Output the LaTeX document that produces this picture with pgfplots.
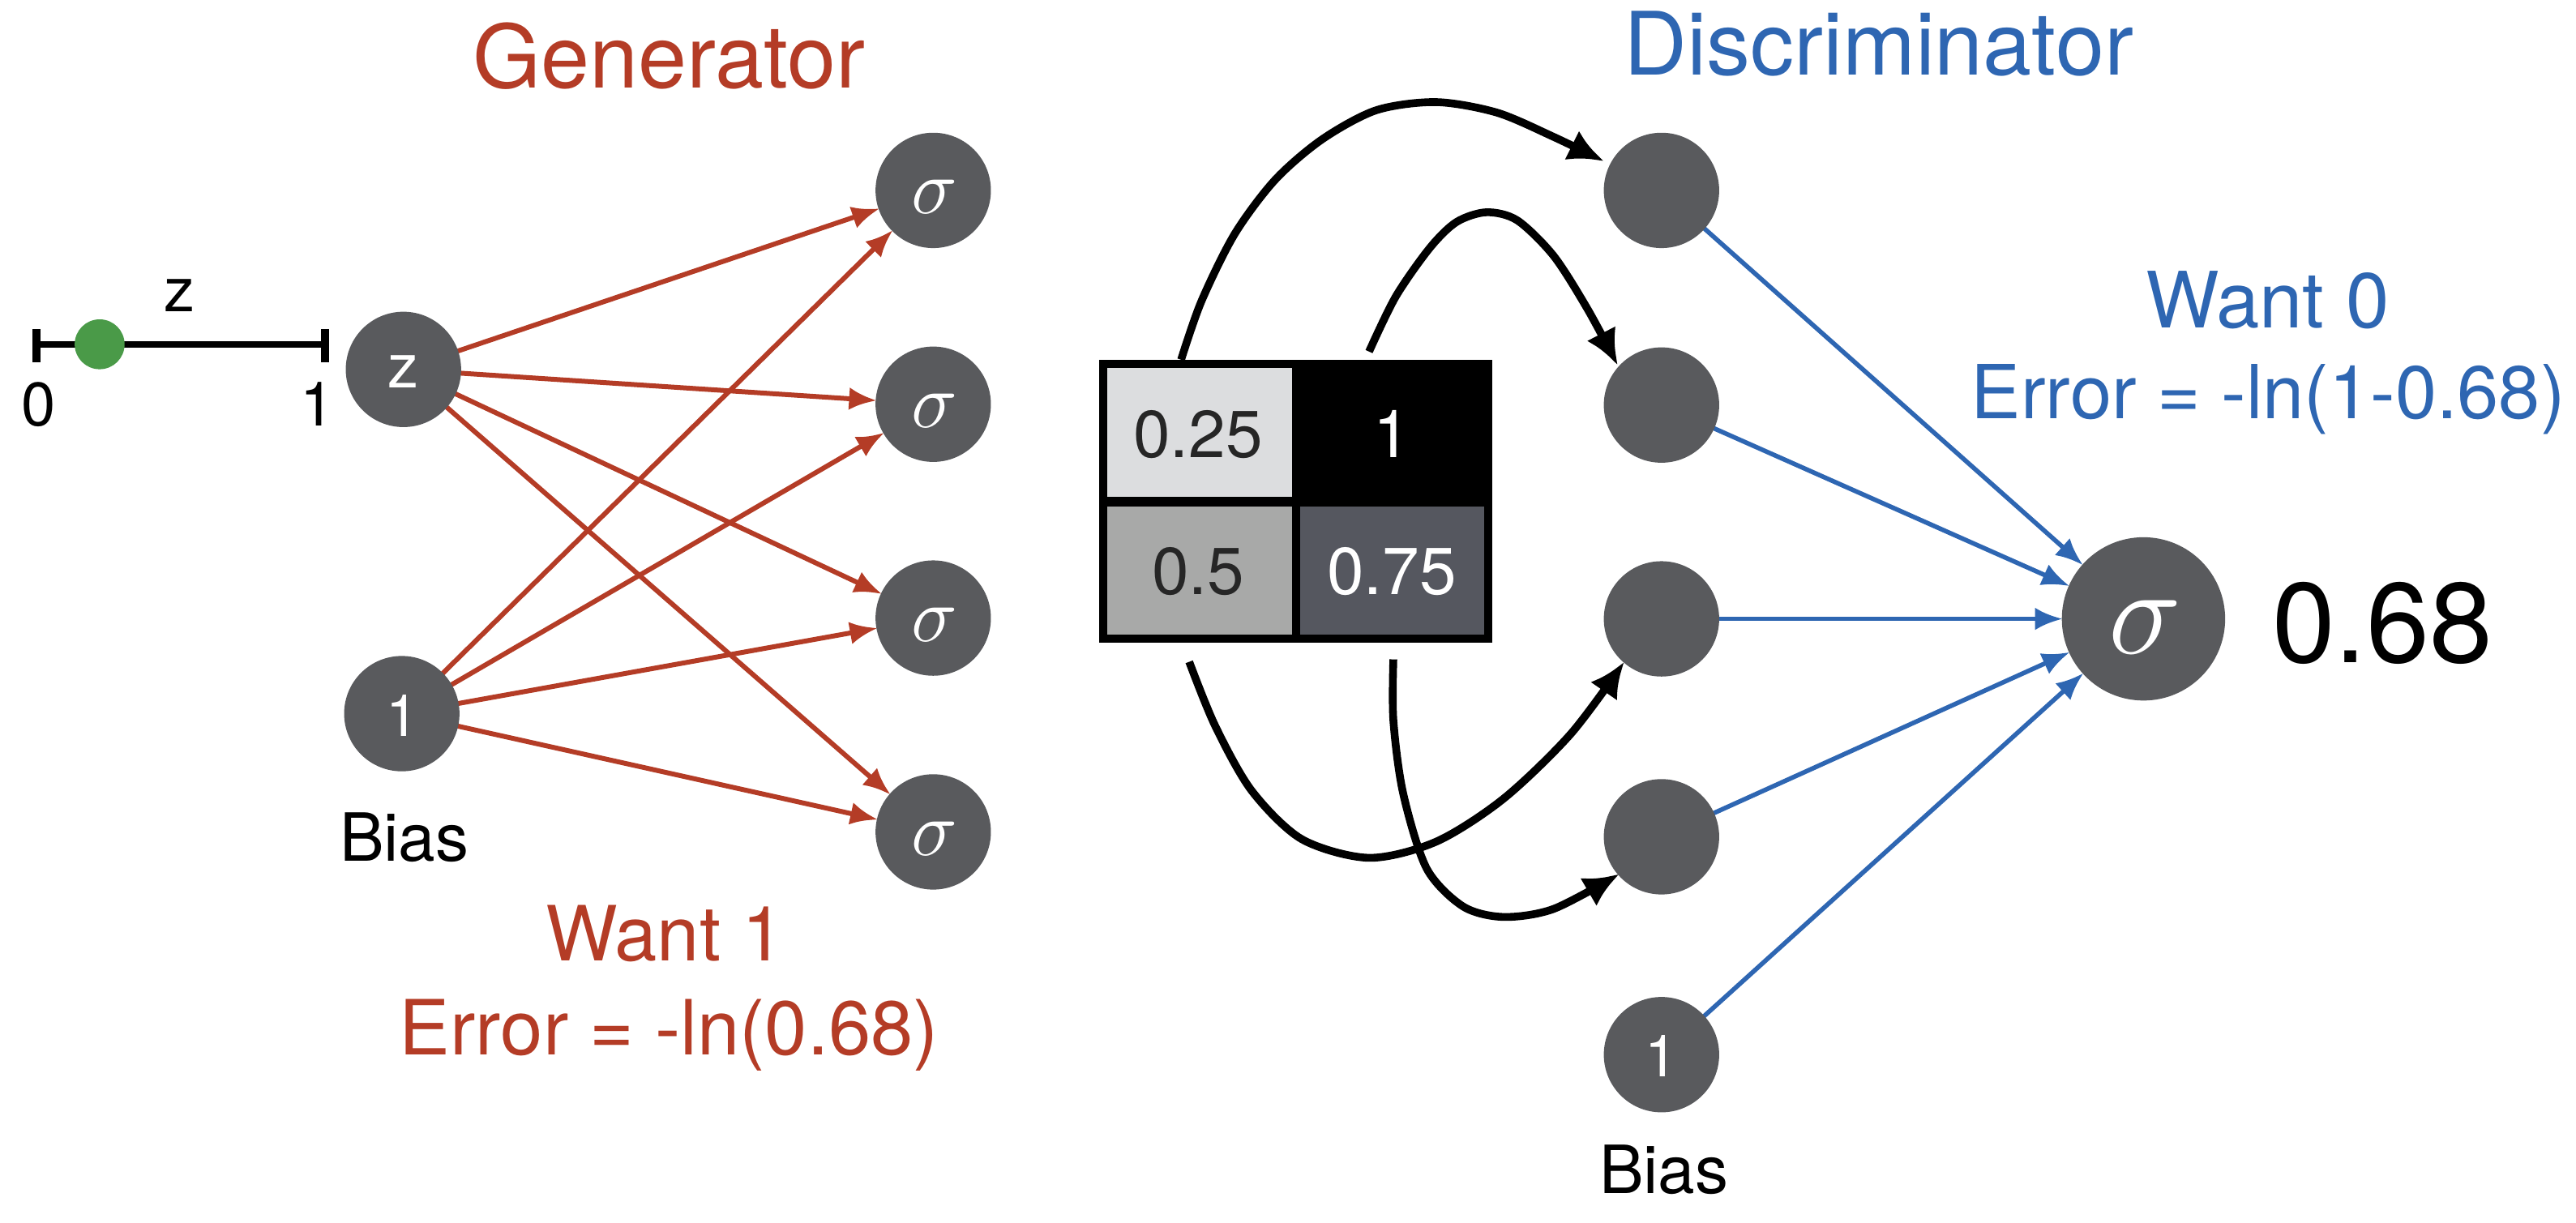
\RequirePackage{fix-cm}
\documentclass[border=0pt]{standalone}
\usepackage{pgfplots}
\pgfplotsset{compat=1.18}
\usetikzlibrary{arrows.meta}
\usepackage{fontspec}
\setmainfont{TeX Gyre Heros}
\definecolor{genred}{RGB}{180,60,38}
\definecolor{discblue}{RGB}{46,102,178}
\definecolor{nodegray}{RGB}{89,90,93}
\definecolor{celllight}{RGB}{220,221,223}
\definecolor{cellmid}{RGB}{168,169,168}
\definecolor{celldark}{RGB}{85,87,95}
\definecolor{dotgreen}{RGB}{74,154,72}
\newcommand{\fs}[1]{\fontsize{#1}{#1}\selectfont}
\newcommand{\sig}{$\sigma$}
\begin{document}
\begin{tikzpicture}
\begin{axis}[
  set layers,
  width=794.5pt, height=375pt, scale only axis,
  xmin=0, xmax=3178, ymin=0, ymax=1500, y dir=reverse,
  hide axis, clip=false,
  redarrow/.style={genred, line width=1.5pt, -{Latex[length=8.5pt,width=7pt]}, shorten <=16pt, shorten >=17.5pt},
  bluearrow/.style={discblue, line width=1.4pt, -{Latex[length=8.5pt,width=7pt]}, shorten <=16pt, shorten >=25pt},
  blackcurve/.style={black, line width=2.4pt, smooth, -{Latex[length=11pt,width=10pt]}},
  nodemark/.style={only marks, mark=*, color=nodegray, mark options={fill=nodegray, draw=nodegray}},
]
\addplot[draw=none, forget plot] coordinates {(0,0) (3178,1500)};

% ---- z slider
\addplot[black, line width=2pt] coordinates {(41,416) (404,416)};
\addplot[black, line width=2.5pt] coordinates {(45,397) (45,438)};
\addplot[black, line width=2.5pt] coordinates {(401,397) (401,438)};
\addplot[only marks, mark=*, mark size=7.5pt, color=dotgreen, mark options={fill=dotgreen, draw=dotgreen}] coordinates {(123,416)};

% ---- generator edges
\addplot[redarrow] coordinates {(498,447) (1152,226)};
\addplot[redarrow] coordinates {(498,447) (1152,490)};
\addplot[redarrow] coordinates {(498,447) (1152,754)};
\addplot[redarrow] coordinates {(498,447) (1152,1018)};
\addplot[redarrow] coordinates {(496,872) (1152,226)};
\addplot[redarrow] coordinates {(496,872) (1152,490)};
\addplot[redarrow] coordinates {(496,872) (1152,754)};
\addplot[redarrow] coordinates {(496,872) (1152,1018)};

% ---- discriminator edges
\addplot[bluearrow] coordinates {(2051,226) (2646,755)};
\addplot[bluearrow] coordinates {(2051,491) (2646,755)};
\addplot[bluearrow] coordinates {(2051,755) (2646,755)};
\addplot[bluearrow] coordinates {(2051,1024) (2646,755)};
\addplot[bluearrow] coordinates {(2051,1293) (2646,755)};

% ---- nodes
\addplot[nodemark, mark size=17.6pt] coordinates {
(498,447) (496,872) (1152,226) (1152,490) (1152,754) (1152,1018)
(2051,226) (2051,491) (2051,755) (2051,1024) (2051,1293)};
\addplot[nodemark, mark size=25pt] coordinates {(2646,755)};

% ---- image grid
\addplot[fill=black, draw=none] coordinates {(1357,435) (1842,435) (1842,784) (1357,784)} -- cycle;
\addplot[fill=celllight, draw=none] coordinates {(1367,445) (1595,445) (1595,604) (1367,604)} -- cycle;
\addplot[fill=cellmid, draw=none] coordinates {(1367,616) (1595,616) (1595,774) (1367,774)} -- cycle;
\addplot[fill=celldark, draw=none] coordinates {(1605,616) (1832,616) (1832,774) (1605,774)} -- cycle;

% ---- curved arrows
\addplot[blackcurve] coordinates {(1458,435) (1483,363) (1524,280) (1574,213) (1632,163) (1699,127) (1773,117) (1848,130) (1918,160) (1980,190)};
\addplot[blackcurve] coordinates {(1690,425) (1723,357) (1765,297) (1798,265) (1835,253) (1873,263) (1918,307) (1960,373) (1997,442)};
\addplot[blackcurve] coordinates {(1468,808) (1500,887) (1545,967) (1607,1027) (1690,1050) (1773,1030) (1856,977) (1939,897) (2005,808)};
\addplot[blackcurve] coordinates {(1720,805) (1720,880) (1732,970) (1761,1063) (1806,1110) (1856,1123) (1918,1113) (1999,1070)};

\begin{pgfonlayer}{axis foreground}
\node[anchor=base, font=\fs{19}] at (axis cs:222,376) {z};
\node[anchor=base, font=\fs{19}] at (axis cs:48,517) {0};
\node[anchor=base, font=\fs{19}] at (axis cs:392,517) {1};

\node[white, font=\fs{19}] at (axis cs:498,450) {z};
\node[white, font=\fs{18}] at (axis cs:497,874) {1};
\node[white, font=\fs{18}] at (axis cs:2051,1295) {1};
\node[white, font=\fs{24}] at (axis cs:1154,234) {\sig};
\node[white, font=\fs{24}] at (axis cs:1154,498) {\sig};
\node[white, font=\fs{24}] at (axis cs:1154,762) {\sig};
\node[white, font=\fs{24}] at (axis cs:1154,1026) {\sig};
\node[white, font=\fs{38}] at (axis cs:2648,765) {\sig};

\node[anchor=base, font=\fs{20.5}, text=black!85] at (axis cs:1479,556) {0.25};
\node[anchor=base, font=\fs{20.5}, white] at (axis cs:1718,556) {1};
\node[anchor=base, font=\fs{20.5}, text=black!85] at (axis cs:1479,725) {0.5};
\node[anchor=base, font=\fs{20.5}, white] at (axis cs:1718,725) {0.75};

\node[anchor=base, font=\fs{27}, text=genred] at (axis cs:826,100) {Generator};
\node[anchor=base, font=\fs{27}, text=discblue] at (axis cs:2319,83) {Discriminator};
\node[anchor=base, font=\fs{20.5}] at (axis cs:499,1054) {Bias};
\node[anchor=base, font=\fs{20.5}] at (axis cs:2054,1464) {Bias};
\node[anchor=base, font=\fs{23.5}, text=genred] at (axis cs:821,1177) {Want 1};
\node[anchor=base, font=\fs{23.5}, text=genred] at (axis cs:826,1293) {Error = -ln(0.68)};
\node[anchor=base, font=\fs{24}, text=discblue] at (axis cs:2799,396) {Want 0};
\node[anchor=base, font=\fs{23}, text=discblue] at (axis cs:2800,508) {Error = -ln(1-0.68)};
\node[anchor=base, font=\fs{35}] at (axis cs:2941,809) {0.68};
\end{pgfonlayer}
\end{axis}
\end{tikzpicture}
\end{document}
